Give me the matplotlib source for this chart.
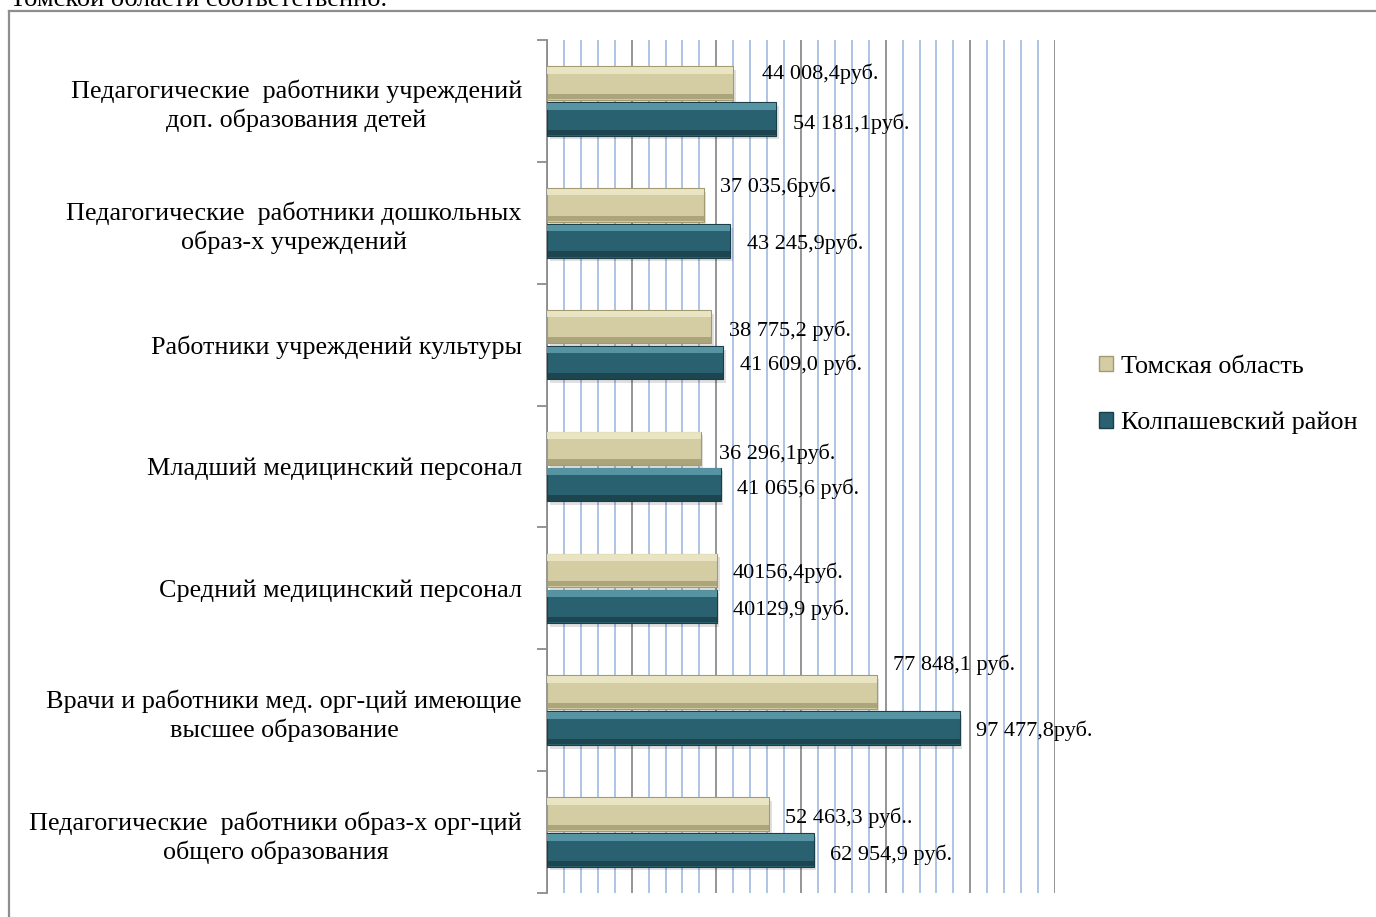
import numpy as np
import matplotlib
matplotlib.use('Agg')
import matplotlib.pyplot as plt
from matplotlib.lines import Line2D
from matplotlib.patches import Patch
from matplotlib.ticker import MultipleLocator, FixedLocator

plt.rcParams['font.family'] = ['Liberation Serif', 'DejaVu Serif']

# ── data ────────────────────────────────────────────────────────────────────
categories = [
    'Педагогические  работники учреждений\nдоп. образования детей',
    'Педагогические  работники дошкольных\nобраз-х учреждений',
    'Работники учреждений культуры',
    'Младший медицинский персонал',
    'Средний медицинский персонал',
    'Врачи и работники мед. орг-ций имеющие\nвысшее образование',
    'Педагогические  работники образ-х орг-ций\nобщего образования',
]
tomsk = [44008.4, 37035.6, 38775.2, 36296.1, 40156.4, 77848.1, 52463.3]
kolp = [54181.1, 43245.9, 41609.0, 41065.6, 40129.9, 97477.8, 62954.9]
tomsk_labels = ['44 008,4руб.', '37 035,6руб.', '38 775,2 руб.', '36 296,1руб.',
                '40156,4руб.', '77 848,1 руб.', '52 463,3 руб..']
kolp_labels = ['54 181,1руб.', '43 245,9руб.', '41 609,0 руб.', '41 065,6 руб.',
               '40129,9 руб.', '97 477,8руб.', '62 954,9 руб.']
series_names = ['Томская область', 'Колпашевский район']

# label offsets in pixels (dx from bar end, dy downwards)
tomsk_off = [(29, -9), (16, -18), (18, 4), (18, 5), (16, 2), (16, -27), (16, 4)]
kolp_off = [(17, 5), (17, 3), (17, 2), (16, 4), (16, 3), (16, 3), (16, 5)]

# ── style ───────────────────────────────────────────────────────────────────
T_MAIN, T_HI, T_LO = '#D4CCA2', '#ECE7C6', '#A39A72'
K_MAIN, K_HI, K_LO = '#2A6170', '#5C9AA9', '#193E48'
H = 0.275
FS = 18.8

W, Hpx = 1376, 917
fig = plt.figure(figsize=(W / 100, Hpx / 100), dpi=100)
ax = fig.add_axes([547 / W, 24 / Hpx, (1055 - 547) / W, (893 - 40) / Hpx])

y = np.arange(len(categories))


def bevel_bars(ax, ycent, vals, main, hi, lo):
    # drop shadow
    ax.barh(ycent + 0.03, vals, height=H, left=600, color='#000000', alpha=0.12,
            zorder=2, linewidth=0)
    ax.barh(ycent, vals, height=H, color=main, zorder=3, linewidth=0.8,
            edgecolor=lo)
    ax.barh(ycent - H * 0.38, vals, height=H * 0.2, color=hi, zorder=4,
            linewidth=0, alpha=0.9)
    ax.barh(ycent + H * 0.40, vals, height=H * 0.16, color=lo, zorder=4,
            linewidth=0, alpha=0.8)


bevel_bars(ax, y - H / 2 - 0.01, tomsk, T_MAIN, T_HI, T_LO)
bevel_bars(ax, y + H / 2 + 0.01, kolp, K_MAIN, K_HI, K_LO)

for i in range(len(categories)):
    ax.annotate(tomsk_labels[i], (tomsk[i], y[i] - H / 2 - 0.01),
                xytext=(tomsk_off[i][0], -tomsk_off[i][1]),
                textcoords='offset pixels', ha='left', va='center',
                fontsize=16, zorder=6)
    ax.annotate(kolp_labels[i], (kolp[i], y[i] + H / 2 + 0.01),
                xytext=(kolp_off[i][0], -kolp_off[i][1]),
                textcoords='offset pixels', ha='left', va='center',
                fontsize=16, zorder=6)

ax.set_xlim(0, 120000)
ax.set_ylim(len(categories) - 0.5, -0.5)

ax.xaxis.set_major_locator(MultipleLocator(20000))
ax.xaxis.set_minor_locator(MultipleLocator(4000))
ax.grid(axis='x', which='minor', color='#A8BFE4', lw=1.3, zorder=0)
ax.grid(axis='x', which='major', color='#8C8C8C', lw=1.3, zorder=1)
ax.tick_params(axis='x', which='both', length=0, labelbottom=False)

ax.set_yticks(y)
ax.set_yticklabels(categories, fontsize=FS)
for lbl in ax.get_yticklabels():
    lbl.set_multialignment('center')
    lbl.set_linespacing(1.3)
ax.yaxis.set_minor_locator(FixedLocator(np.arange(-0.5, len(categories), 1)))
ax.tick_params(axis='y', which='major', length=0, pad=18)
ax.tick_params(axis='y', which='minor', length=7, color='#8C8C8C', width=1.3)

for s in ['top', 'right', 'bottom']:
    ax.spines[s].set_visible(False)
ax.spines['left'].set_color('#8C8C8C')
ax.spines['left'].set_linewidth(1.3)

handles = [Patch(facecolor=T_MAIN, edgecolor=T_LO),
           Patch(facecolor=K_MAIN, edgecolor=K_LO)]
fig.legend(handles, series_names, loc='center left',
           bbox_to_anchor=(1075 / W, 1 - 395 / Hpx), frameon=False,
           fontsize=FS, handlelength=0.55, handleheight=0.55, handletextpad=0.3,
           labelspacing=1.3)

# page frame and cut-off heading text
fig.add_artist(Line2D([9 / W, 1], [1 - 11 / Hpx, 1 - 11 / Hpx],
                      transform=fig.transFigure, color='#8E8E8E', lw=1.6))
fig.add_artist(Line2D([9 / W, 9 / W], [0, 1 - 11 / Hpx],
                      transform=fig.transFigure, color='#8E8E8E', lw=1.6))
fig.text(10 / W, 1 - 6 / Hpx, 'Томской области соответственно.', fontsize=19,
         va='baseline', ha='left')

fig.savefig('out.png', dpi=100)
